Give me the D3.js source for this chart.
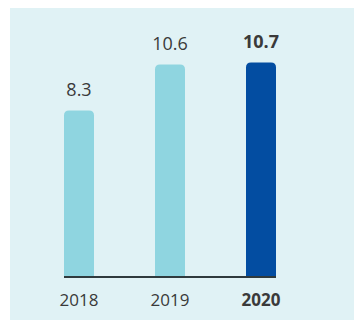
<!DOCTYPE html>
<html><head><meta charset="utf-8">
<script src="https://cdn.jsdelivr.net/npm/d3@7"></script>
<style>body{margin:0;background:#fff}svg{display:block}</style>
</head><body>
<svg id="c" width="354" height="321"></svg>
<script>
const categories = ["2018", "2019", "2020"];
const values = [8.3, 10.6, 10.7];
const highlight = [false, false, true];

const svg = d3.select("#c");
svg.append("rect").attr("x", 10).attr("y", 8).attr("width", 344).attr("height", 312).attr("fill", "#e0f2f5");

const baseY = 276.5;
const x = d3.scaleBand().domain(categories).range([33.5, 306.5]).paddingInner(0.5).paddingOuter(0.25);
const y = d3.scaleLinear().domain([0, 10]).range([baseY, baseY - 200]);
const bw = 30;
const r = 5;

function barPath(cx, top) {
  const l = cx - bw / 2, rt = cx + bw / 2;
  return `M${l},${baseY}V${top + r}Q${l},${top} ${l + r},${top}H${rt - r}Q${rt},${top} ${rt},${top + r}V${baseY}Z`;
}

const g = svg.append("g");
categories.forEach((c, i) => {
  const cx = x(c) + x.bandwidth() / 2;
  const top = y(values[i]);
  g.append("path").attr("d", barPath(cx, top)).attr("fill", highlight[i] ? "#034da1" : "#8fd5e0");
  g.append("text").attr("x", cx).attr("y", top - 15).attr("text-anchor", "middle")
    .attr("font-family", "Open Sans, sans-serif").attr("font-size", 18)
    .attr("font-weight", highlight[i] ? 700 : 400).attr("fill", "#3a3a3a")
    .text(values[i].toFixed(1));
});

const axis = d3.axisBottom(x).tickSize(0).tickPadding(0).tickFormat(d => d);
const ax = svg.append("g").attr("transform", `translate(0,${baseY})`).call(axis);
ax.select(".domain").remove();
svg.append("line").attr("x1", x("2018") + x.bandwidth()/2 - bw/2).attr("x2", x("2020") + x.bandwidth()/2 + bw/2)
  .attr("y1", baseY + 0.5).attr("y2", baseY + 0.5).attr("stroke", "#2f3a3d").attr("stroke-width", 2);
ax.selectAll(".tick text").attr("y", 29.5).attr("dy", 0)
  .attr("font-family", "Open Sans, sans-serif").attr("font-size", 17).attr("fill", "#3a3a3a")
  .attr("font-weight", (d, i) => highlight[i] ? 700 : 400);
</script>
</body></html>
